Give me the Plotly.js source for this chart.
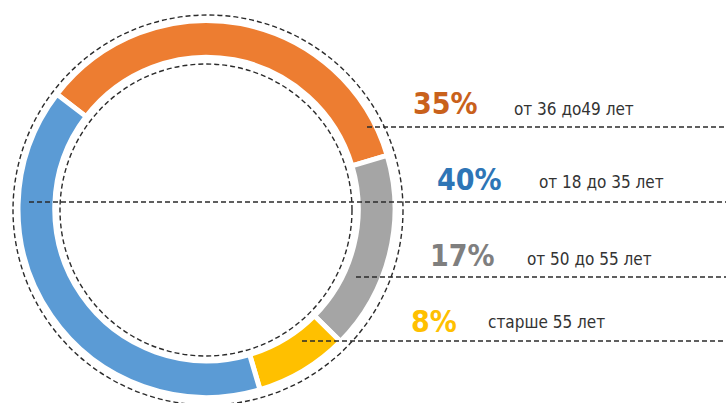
<!DOCTYPE html>
<html>
<head>
<meta charset="utf-8">
<script src="https://cdn.plot.ly/plotly-3.0.1.min.js"></script>
<style>html,body{margin:0;padding:0;background:#fff}#chart{width:726px;height:403px}</style>
</head>
<body>
<div id="chart"></div>
<script>
// Data (in clockwise slice order starting from the top-left)
const categories = ['от 36 до49 лет', 'от 50 до 55 лет', 'старше 55 лет', 'от 18 до 35 лет'];
const values = [35, 17, 8, 40];
const sliceColors = ['#ED7D31', '#A5A5A5', '#FFC000', '#5B9BD5'];
const pctColors = ['#C9611B', '#7F7F7F', '#FFC000', '#2E75B6'];

const W = 726, H = 403;
const px = x => x / W;
const py = y => 1 - y / H;

// label layout (pixels): [pctX, labelX, pctY, labelY, lineY, lineStartX]
const rows = [
  [411, 512, 103, 109, 127, 367],
  [428, 525, 255, 259, 277, 356],
  [409, 486, 321, 322, 341, 302],
  [435, 537, 179, 182, 202, 29]
];

const cx = 206.5, cy = 209, R = 188.5;
const trace = {
  type: 'pie',
  labels: categories,
  values: values,
  sort: false,
  direction: 'clockwise',
  rotation: -52.5,
  hole: 0.805,
  textinfo: 'none',
  hoverinfo: 'none',
  marker: {colors: sliceColors, line: {color: '#ffffff', width: 5}},
  domain: {x: [px(cx - R), px(cx + R)], y: [py(cy + R), py(cy - R)]}
};

const dashLine = {color: '#2b2b2b', width: 1.4, dash: '5px,3px'};
const shapes = [
  {type: 'circle', xref: 'paper', yref: 'paper', x0: px(13), x1: px(403), y0: py(405), y1: py(15), line: dashLine},
  {type: 'circle', xref: 'paper', yref: 'paper', x0: px(60), x1: px(352), y0: py(356), y1: py(64), line: dashLine}
];
const annotations = [];
categories.forEach((c, i) => {
  const r = rows[i];
  shapes.push({type: 'line', xref: 'paper', yref: 'paper', x0: px(r[5]), x1: 1, y0: py(r[4]), y1: py(r[4]), line: dashLine});
  annotations.push({xref: 'paper', yref: 'paper', x: px(r[0]), y: py(r[2]), xanchor: 'left', yanchor: 'middle',
    text: values[i] + '%', showarrow: false,
    font: {family: 'DejaVu Sans Condensed, DejaVu Sans, sans-serif', size: 30, weight: 'bold', color: pctColors[i]}});
  annotations.push({xref: 'paper', yref: 'paper', x: px(r[1]), y: py(r[3]), xanchor: 'left', yanchor: 'middle',
    text: c, showarrow: false,
    font: {family: 'DejaVu Sans Condensed, DejaVu Sans, sans-serif', size: 17, color: '#333333'}});
});

Plotly.newPlot('chart', [trace], {
  width: W, height: H,
  margin: {l: 0, r: 0, t: 0, b: 0},
  paper_bgcolor: '#ffffff',
  showlegend: false,
  shapes: shapes,
  annotations: annotations
}, {staticPlot: true});
</script>
</body>
</html>
